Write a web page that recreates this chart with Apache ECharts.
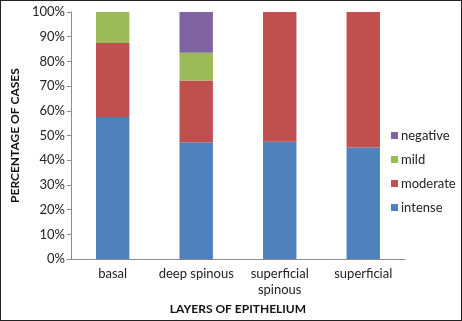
<!DOCTYPE html>
<html>
<head>
<meta charset="utf-8">
<script src="https://cdn.jsdelivr.net/npm/echarts@6/dist/echarts.min.js"></script>
<style>
  html, body { margin: 0; padding: 0; background: #fff; }
  #chart { width: 460px; height: 319px; border: 1px solid #222; }
</style>
</head>
<body>
<div id="chart"></div>
<script>
const categories = ['basal', 'deep spinous', 'superficial\nspinous', 'superficial'];
const intense = [57.5, 47.3, 47.5, 45.2];
const moderate = [30.0, 25.0, 52.5, 54.8];
const mild = [12.5, 11.2, 0, 0];
const negative = [0, 16.5, 0, 0];
const yTicks = [0, 10, 20, 30, 40, 50, 60, 70, 80, 90, 100];

const chart = echarts.init(document.getElementById('chart'));
const font = 'Lato';

function bar(name, data, color) {
  return {
    name: name,
    type: 'bar',
    stack: 'all',
    barWidth: '40%',
    data: data,
    itemStyle: { color: color },
    emphasis: { disabled: true }
  };
}

chart.setOption({
  animation: false,
  textStyle: { fontFamily: font },
  grid: { left: 56, right: 56, top: 11, bottom: 58 },
  legend: {
    orient: 'vertical',
    left: 385,
    top: 123,
    icon: 'rect',
    itemWidth: 7,
    itemHeight: 7,
    itemGap: 11,
    data: ['negative', 'mild', 'moderate', 'intense'],
    textStyle: { fontFamily: font, fontSize: 13, color: '#222', padding: [0, 0, 0, -2] }
  },
  xAxis: {
    type: 'category',
    data: categories,
    name: 'LAYERS OF EPITHELIUM',
    nameLocation: 'middle',
    nameGap: 40,
    nameTextStyle: { fontFamily: font, fontWeight: 'bold', fontSize: 12, color: '#111' },
    axisLine: { lineStyle: { color: '#8c8c8c' } },
    axisTick: { length: 5, lineStyle: { color: '#8c8c8c' } },
    axisLabel: { color: '#222', fontSize: 13, margin: 7, lineHeight: 16, interval: 0 }
  },
  yAxis: {
    type: 'value',
    min: yTicks[0],
    max: yTicks[yTicks.length - 1],
    interval: 10,
    name: 'PERCENTAGE OF CASES',
    nameLocation: 'middle',
    nameGap: 42,
    nameTextStyle: { fontFamily: font, fontWeight: 'bold', fontSize: 12, color: '#111' },
    axisLine: { show: true, lineStyle: { color: '#8c8c8c' } },
    axisTick: { show: true, length: 4, lineStyle: { color: '#8c8c8c' } },
    splitLine: { show: false },
    axisLabel: { color: '#222', fontSize: 13, margin: 6, formatter: '{value}%' }
  },
  series: [
    bar('intense', intense, '#4f81bd'),
    bar('moderate', moderate, '#c0504d'),
    bar('mild', mild, '#9bbb59'),
    bar('negative', negative, '#8064a2')
  ]
});
</script>
</body>
</html>
